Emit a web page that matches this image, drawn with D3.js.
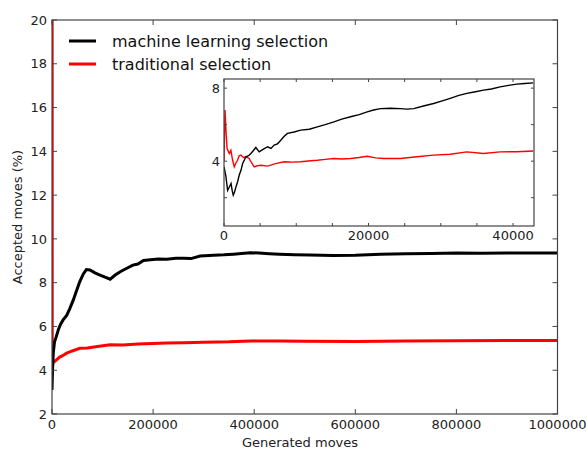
<!DOCTYPE html>
<html><head><meta charset="utf-8">
<script src="https://cdn.jsdelivr.net/npm/d3@7"></script>
<style>body{margin:0;background:#fff;} svg{display:block;font-family:"DejaVu Sans",sans-serif;}</style>
</head><body><svg id="c" width="587" height="450"></svg>
<script>
// ---- data ----
const mlX = [0,1000,2500,5000,8000,12500,17000,22000,29000,35000,42000,48000,55000,62000,68000,75000,85000,95000,105000,115000,125000,135000,148000,160000,170000,181000,195000,210000,227000,245000,260000,275000,293000,320000,340000,359000,375000,392000,410000,430000,450000,480000,510000,556000,600000,650000,700000,750000,800000,850000,900000,950000,1000000];
const mlY = [3.1,4.0,4.8,5.3,5.5,5.85,6.1,6.3,6.5,6.8,7.2,7.6,8.05,8.4,8.6,8.58,8.45,8.35,8.25,8.16,8.35,8.5,8.66,8.8,8.85,9.01,9.05,9.08,9.07,9.12,9.12,9.1,9.22,9.25,9.27,9.30,9.33,9.37,9.35,9.32,9.3,9.28,9.26,9.24,9.25,9.3,9.32,9.33,9.35,9.34,9.35,9.36,9.36];
const trX = [0,500,2000,5000,10000,15000,20000,29000,40000,55000,70000,90000,115000,140000,170000,200000,227000,260000,300000,350000,392000,450000,500000,600000,700000,800000,900000,1000000];
const trY = [50,4.2,4.35,4.4,4.5,4.6,4.65,4.78,4.88,5.0,5.02,5.08,5.16,5.15,5.2,5.22,5.24,5.26,5.28,5.3,5.34,5.33,5.32,5.31,5.33,5.35,5.36,5.36];
const inMlX = [0,250,500,750,970,1130,1280,1450,1660,1900,2100,2350,2580,2800,3030,3400,3720,4100,4410,4870,5400,6030,6500,6940,7400,7860,8300,8780,9700,10620,11800,12920,14000,15210,16300,17520,18700,19820,20700,21660,23000,24410,25300,26250,27600,29010,30200,31310,32500,33610,34800,35910,37000,38210,39400,40510,41600,42800];
const inMlY = [3.7,3.2,2.4,2.6,2.78,2.4,2.14,2.3,2.59,2.9,3.23,3.5,3.87,4.05,4.24,4.3,4.42,4.6,4.75,4.51,4.65,4.79,4.7,4.88,4.95,5.15,5.35,5.52,5.6,5.7,5.75,5.88,6.0,6.15,6.3,6.43,6.55,6.7,6.8,6.88,6.9,6.88,6.85,6.88,7.02,7.16,7.3,7.44,7.6,7.71,7.8,7.89,7.95,8.07,8.15,8.22,8.25,8.29];
const inTrX = [0,140,300,420,730,950,1190,1420,1650,1880,2100,2340,2700,3030,3490,3720,4180,4600,5100,6030,7000,8320,9500,10620,12000,12920,14000,15210,16300,17520,18700,19820,21000,22110,24410,26710,29010,31310,33610,35910,38210,40500,42800];
const inTrY = [4.0,6.8,5.5,4.7,4.42,4.6,4.05,3.69,3.9,4.05,4.3,4.33,4.2,4.24,4.15,3.97,3.69,3.75,3.78,3.73,3.85,3.97,3.95,3.97,4.02,4.05,4.1,4.15,4.12,4.15,4.2,4.27,4.18,4.15,4.15,4.24,4.33,4.38,4.51,4.42,4.51,4.52,4.56];
const xTicks = [0,200000,400000,600000,800000,1000000];
const yTicks = [2,4,6,8,10,12,14,16,18,20];
const inXTicks = [0,5000,10000,15000,20000,25000,30000,35000,40000];
const inXLabels = [0,20000,40000];
const inYTicks = [2,4,6,8];
const inYLabels = [4,8];
const seriesNames = ["machine learning selection","traditional selection"];
const seriesColors = ["#000000","#ff0000"];

const svg = d3.select("#c");
const spine = "#444";
const txt = "#222";

// ---- main ----
const L=52, R=557.5, T=20, B=414;
const x = d3.scaleLinear().domain([0,1000000]).range([L,R]);
const y = d3.scaleLinear().domain([2,20]).range([B,T]);

svg.append("clipPath").attr("id","mclip").append("rect").attr("x",L).attr("y",T).attr("width",R-L).attr("height",B-T);

const line = (sx,sy)=>d3.line().x(d=>sx(d[0])).y(d=>sy(d[1]));
const zip = (a,b)=>a.map((v,i)=>[v,b[i]]);

const g = svg.append("g");
g.append("path").datum(zip(trX,trY)).attr("d",line(x,y)).attr("fill","none").attr("stroke",seriesColors[1]).attr("stroke-width",3).attr("clip-path","url(#mclip)");
g.append("path").datum(zip(mlX,mlY)).attr("d",line(x,y)).attr("fill","none").attr("stroke",seriesColors[0]).attr("stroke-width",3).attr("clip-path","url(#mclip)");

function axes(gr, sx, sy, xt, yt, xl, yl, tl, fs, labelPad){
  const [x0,x1]=sx.range(), [y0,y1]=sy.range();
  // ticks
  const ax = gr.append("g").attr("stroke",spine).attr("stroke-width",1);
  xt.forEach(v=>{
    ax.append("line").attr("x1",sx(v)).attr("x2",sx(v)).attr("y1",y0).attr("y2",y0-tl);
    ax.append("line").attr("x1",sx(v)).attr("x2",sx(v)).attr("y1",y1).attr("y2",y1+tl);
  });
  yt.forEach(v=>{
    ax.append("line").attr("x1",x0).attr("x2",x0+tl).attr("y1",sy(v)).attr("y2",sy(v));
    ax.append("line").attr("x1",x1).attr("x2",x1-tl).attr("y1",sy(v)).attr("y2",sy(v));
  });
  gr.append("rect").attr("x",x0).attr("y",y1).attr("width",x1-x0).attr("height",y0-y1).attr("fill","none").attr("stroke",spine).attr("stroke-width",1.2);
  xl.forEach(v=>{
    gr.append("text").attr("x",sx(v)).attr("y",y0+labelPad+fs*0.76).attr("text-anchor","middle").attr("font-size",fs).attr("fill",txt).text(v);
  });
  yl.forEach(v=>{
    gr.append("text").attr("x",x0-labelPad).attr("y",sy(v)).attr("dy","0.36em").attr("text-anchor","end").attr("font-size",fs).attr("fill",txt).text(v);
  });
}
axes(svg.append("g"), x, y, xTicks, yTicks, xTicks, yTicks, 5, 13, 5);

svg.append("text").attr("x",300).attr("y",447).attr("text-anchor","middle").attr("font-size",13).attr("fill",txt).text("Generated moves");
svg.append("text").attr("transform","translate(22,217) rotate(-90)").attr("text-anchor","middle").attr("font-size",13).attr("fill",txt).text("Accepted moves (%)");

// legend
seriesNames.forEach((n,i)=>{
  const ly = 41 + i*23;
  svg.append("line").attr("x1",69).attr("x2",96).attr("y1",ly).attr("y2",ly).attr("stroke",seriesColors[i]).attr("stroke-width",3);
  svg.append("text").attr("x",112).attr("y",ly).attr("dy","0.35em").attr("font-size",16).attr("fill","#111").text(n);
});

// ---- inset ----
const iL=224, iR=534, iT=79, iB=226;
const ix = d3.scaleLinear().domain([0,42900]).range([iL,iR]);
const iy = d3.scaleLinear().domain([0.45,8.5]).range([iB,iT]);
svg.append("rect").attr("x",iL).attr("y",iT).attr("width",iR-iL).attr("height",iB-iT).attr("fill","#fff");
svg.append("clipPath").attr("id","iclip").append("rect").attr("x",iL).attr("y",iT).attr("width",iR-iL).attr("height",iB-iT);
svg.append("path").datum(zip(inTrX,inTrY)).attr("d",line(ix,iy)).attr("fill","none").attr("stroke",seriesColors[1]).attr("stroke-width",1.4).attr("clip-path","url(#iclip)");
svg.append("path").datum(zip(inMlX,inMlY)).attr("d",line(ix,iy)).attr("fill","none").attr("stroke",seriesColors[0]).attr("stroke-width",1.4).attr("clip-path","url(#iclip)");
axes(svg.append("g"), ix, iy, inXTicks, inYTicks, inXLabels, inYLabels, 3, 13, 4);
</script></body></html>
